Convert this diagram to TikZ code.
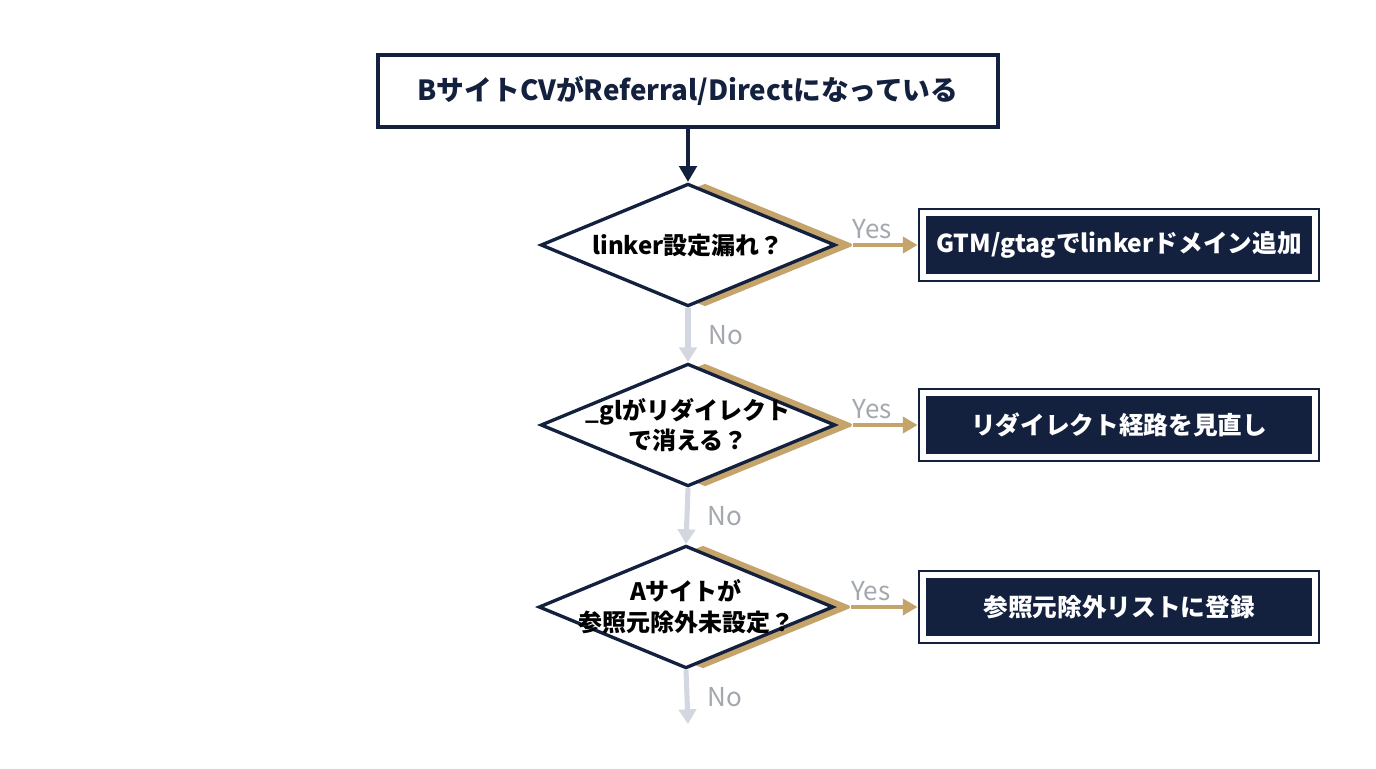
\documentclass[tikz,border=0pt]{standalone}
\usepackage{fontspec}
\setmainfont{Noto Sans CJK JP}
\usetikzlibrary{shapes.geometric,arrows.meta,calc}
\definecolor{navy}{HTML}{13213F}
\definecolor{gold}{HTML}{C4A46A}
\definecolor{lgray}{HTML}{D3D8E0}
\definecolor{tgray}{HTML}{A3A7AE}
\tikzset{
  x=0.75pt, y=-0.75pt,
  startbox/.style={draw=navy, line width=2.4pt, fill=white, minimum width=465pt, minimum height=54pt, inner sep=0pt, font=\fontsize{20.8}{23}\selectfont\bfseries, text=navy},
  decision/.style={diamond, draw=navy, line width=2.5pt, fill=white, minimum width=221pt, minimum height=92pt, inner sep=0pt},
  shadowd/.style={diamond, fill=gold, draw=gold, line width=2.6pt, line join=round, minimum width=219pt, minimum height=90pt, inner sep=0pt},
  dtext/.style={font=\fontsize{18}{23}\selectfont\bfseries, text=black, align=center},
  resultouter/.style={draw=navy, line width=2.2pt, fill=white, minimum width=300pt, minimum height=54pt, inner sep=0pt},
  resultinner/.style={fill=navy, minimum width=289pt, minimum height=43pt, inner sep=0pt, font=\fontsize{18.5}{22}\selectfont\bfseries, text=white},
  mainarrow/.style={draw=navy, line width=3.2pt, -{Triangle[length=12pt,width=13pt]}},
  yesarrow/.style={draw=gold, line width=3pt, -{Triangle[length=11pt,width=12pt]}},
  noarrow/.style={draw=lgray, line width=3.8pt, -{Triangle[length=11pt,width=13pt]}},
  lbl/.style={font=\fontsize{19.5}{21}\selectfont, text=tgray},
}
\begin{document}
\begin{tikzpicture}
\useasboundingbox (0,0) rectangle (1376,768);
\fill[white] (0,0) rectangle (1376,768);

% start
\node[startbox] (start) at (688,91) {BサイトCVがReferral/Directになっている};

% decision shadows
\node[shadowd] (s1) at (705,245) {};
\node[shadowd] (s2) at (705,425) {};
\node[shadowd] (s3) at (703,607) {};

% decisions
\node[decision] (d1) at (688,245) {};
\node[decision] (d2) at (688,425) {};
\node[decision] (d3) at (686,607) {};
\node[dtext] (t1) at (d1) {linker設定漏れ？};
\node[dtext] (t2) at (d2) {\_glがリダイレクト\\で消える？};
\node[dtext] (t3) at (d3) {Aサイトが\\参照元除外未設定？};

% results
\node[resultouter] (r1) at (1119,245) {};
\node[resultinner] (ri1) at (r1) {GTM/gtagでlinkerドメイン追加};
\node[resultouter] (r2) at (1119,425) {};
\node[resultinner] (ri2) at (r2) {リダイレクト経路を見直し};
\node[resultouter] (r3) at (1119,607) {};
\node[resultinner] (ri3) at (r3) {参照元除外リストに登録};

\coordinate (end) at (688,724);

% connectors
\draw[mainarrow] (start.south) -- (d1.north);
\draw[yesarrow] (s1.east) -- (r1.west) node[lbl, pos=0.3, above=0pt] {Yes};
\draw[yesarrow] (s2.east) -- (r2.west) node[lbl, pos=0.3, above=0pt] {Yes};
\draw[yesarrow] (s3.east) -- (r3.west) node[lbl, pos=0.3, above=0pt] {Yes};
\draw[noarrow] (d1.south) -- (d2.north) node[lbl, midway, right=10pt] {No};
\draw[noarrow] (d2.south) -- (d3.north) node[lbl, midway, right=10pt] {No};
\draw[noarrow] (d3.south) -- (end) node[lbl, midway, right=10pt] {No};
\end{tikzpicture}
\end{document}
